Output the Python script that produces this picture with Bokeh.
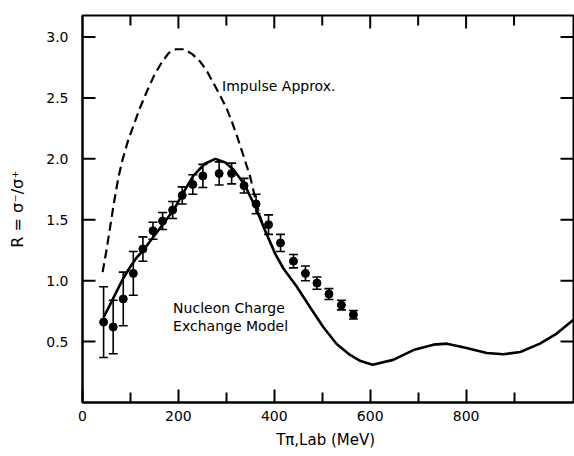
from bokeh.plotting import figure
from bokeh.models import (Range1d, LinearAxis, FixedTicker, Whisker, TeeHead,
                          ColumnDataSource, Label)
from bokeh.embed import file_html
from bokeh.resources import INLINE

# ---- measured ratio R = sigma-/sigma+ ----
t_data = [44, 64, 85, 106, 126, 147, 167, 188, 208, 230, 251, 285, 311,
          337, 362, 388, 413, 440, 465, 489, 514, 540, 565]
r_data = [0.66, 0.62, 0.85, 1.06, 1.26, 1.41, 1.49, 1.58, 1.70, 1.79, 1.86,
          1.88, 1.88, 1.78, 1.63, 1.46, 1.31, 1.16, 1.06, 0.98, 0.89, 0.80, 0.72]
r_err = [0.29, 0.22, 0.22, 0.18, 0.10, 0.07, 0.07, 0.07, 0.07, 0.08, 0.095,
         0.095, 0.085, 0.06, 0.08, 0.08, 0.07, 0.055, 0.06, 0.05, 0.045, 0.04, 0.035]

# ---- Nucleon charge exchange model (solid) ----
t_model = [44, 57, 71, 85, 99, 113, 127, 148, 169, 190, 210, 231, 255, 277,
           298, 315, 338, 361, 381, 402, 419, 447, 475, 502, 530, 558, 580,
           605, 648, 690, 732, 760, 801, 843, 878, 913, 954, 989, 1024]
r_model = [0.70, 0.80, 0.91, 1.02, 1.11, 1.19, 1.25, 1.36, 1.47, 1.58, 1.72,
           1.86, 1.96, 2.00, 1.97, 1.91, 1.79, 1.60, 1.41, 1.22, 1.10, 0.95,
           0.78, 0.62, 0.48, 0.39, 0.34, 0.31, 0.35, 0.43, 0.475, 0.483, 0.447,
           0.406, 0.396, 0.415, 0.483, 0.566, 0.68]

# ---- Impulse approximation (dashed) ----
t_impulse = [42, 50, 58, 66, 75, 84, 95, 107, 120, 135, 150, 165, 180, 195,
             212, 229, 245, 258, 272, 287, 300, 312, 322, 332, 341, 350, 360,
             368, 377]
r_impulse = [1.07, 1.25, 1.45, 1.65, 1.85, 2.00, 2.15, 2.28, 2.42, 2.56, 2.69,
             2.79, 2.87, 2.90, 2.90, 2.86, 2.80, 2.73, 2.63, 2.52, 2.42, 2.30,
             2.19, 2.07, 1.96, 1.85, 1.68, 1.56, 1.44]

x_major_ticks = [0, 200, 400, 600, 800]
x_minor_ticks = [100, 300, 500, 700, 900]
x_tick_labels = ["0", "200", "400", "600", "800"]
y_ticks = [0.5, 1.0, 1.5, 2.0, 2.5, 3.0]
y_tick_labels = ["0.5", "1.0", "1.5", "2.0", "2.5", "3.0"]

FONT = "DejaVu Sans"
X0, X1 = 0, 1024
Y0, Y1 = 0, 3.177
W, H = 574, 456
BL, BR, BT, BB = 82, 1, 15, 54
FW, FH = W - BL - BR, H - BT - BB          # frame size in px
DX, DY = (X1 - X0) / FW, (Y1 - Y0) / FH     # data units per px
MAJ, MIN = 13, 10                           # tick lengths in px
TICK_COLOR = "black"

p = figure(width=W, height=H, output_backend="svg", toolbar_location=None,
           x_range=Range1d(X0, X1), y_range=Range1d(Y0, Y1),
           x_axis_type=None, y_axis_type=None,
           min_border_left=BL, min_border_right=BR, min_border_top=BT,
           min_border_bottom=BB)
p.outline_line_color = "black"
p.outline_line_width = 2
p.background_fill_color = "white"
p.border_fill_color = "white"


def style(ax):
    ax.axis_line_color = "black"
    ax.axis_line_width = 2
    ax.major_tick_in = 0
    ax.major_tick_out = 0
    ax.minor_tick_in = 0
    ax.minor_tick_out = 0
    ax.major_label_text_font = FONT
    ax.major_label_text_font_size = "14px"
    ax.major_label_text_color = "black"
    ax.axis_label_text_font = FONT
    ax.axis_label_text_font_style = "normal"
    ax.axis_label_text_color = "black"


xb = LinearAxis(ticker=FixedTicker(ticks=x_major_ticks, minor_ticks=x_minor_ticks),
                major_label_overrides=dict(zip(x_major_ticks, x_tick_labels)),
                axis_label="Tπ,Lab  (MeV)")
style(xb)
xb.major_tick_in = MAJ
xb.minor_tick_in = MIN
xb.major_tick_line_color = TICK_COLOR
xb.minor_tick_line_color = TICK_COLOR
xb.major_tick_line_width = 2
xb.minor_tick_line_width = 2
xb.major_label_standoff = 8
xb.axis_label_standoff = 7
xb.axis_label_text_font_size = "15px"
p.add_layout(xb, "below")

yl = LinearAxis(ticker=FixedTicker(ticks=y_ticks, minor_ticks=[]),
                major_label_overrides=dict(zip(y_ticks, y_tick_labels)),
                axis_label="R = σ⁻/σ⁺")
style(yl)
yl.major_label_standoff = 14
yl.axis_label_standoff = 16
yl.axis_label_text_font_size = "16px"
p.add_layout(yl, "left")

# inward frame ticks: top, left, right
xt_major = x_major_ticks[1:]
tick_src = ColumnDataSource(dict(
    x0=xt_major + x_minor_ticks + [X0] * len(y_ticks) + [X1] * len(y_ticks),
    y0=[Y1] * 4 + [Y1] * 5 + y_ticks + y_ticks,
    x1=xt_major + x_minor_ticks
       + [X0 + MAJ * DX] * len(y_ticks) + [X1 - MAJ * DX] * len(y_ticks),
    y1=[Y1 - MAJ * DY] * 4 + [Y1 - MIN * DY] * 5 + y_ticks + y_ticks,
))
p.segment(x0="x0", y0="y0", x1="x1", y1="y1", source=tick_src,
          line_color=TICK_COLOR, line_width=2)

# curves
p.line(t_impulse, r_impulse, line_color="black", line_width=2.2, line_dash="9 5")
p.line(t_model, r_model, line_color="black", line_width=2.6)

# data with error bars
src = ColumnDataSource(dict(
    t=t_data, r=r_data,
    lo=[r - e for r, e in zip(r_data, r_err)],
    hi=[r + e for r, e in zip(r_data, r_err)]))
p.add_layout(Whisker(base="t", lower="lo", upper="hi", source=src,
                     line_color="black", line_width=1.6,
                     lower_head=TeeHead(size=9, line_color="black", line_width=1.6),
                     upper_head=TeeHead(size=9, line_color="black", line_width=1.6)))
p.scatter("t", "r", source=src, size=8, marker="circle",
          fill_color="black", line_color="black")


def lab(x, y, s, size="14px"):
    p.add_layout(Label(x=x, y=y, text=s, text_font=FONT, text_font_size=size,
                       text_align="left", text_baseline="middle",
                       text_color="black"))


lab(291, 2.60, "Impulse Approx.")
lab(189, 0.775, "Nucleon Charge")
lab(189, 0.625, "Exchange Model")

open("out.html", "w").write(file_html(p, INLINE))
